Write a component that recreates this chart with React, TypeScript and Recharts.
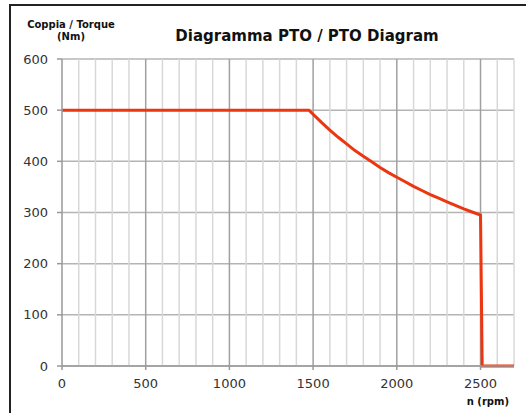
import { CartesianGrid, Line, LineChart, ReferenceLine, XAxis, YAxis } from 'recharts';

const rpm = [0, 1475, 1550, 1600, 1650, 1700, 1750, 1800, 1850, 1900, 1950, 2000, 2050, 2100, 2150, 2200, 2250, 2300, 2350, 2400, 2450, 2500, 2510, 2700];
const torque = [500, 500, 476, 461, 447, 434, 421, 410, 399, 388, 378, 369, 360, 351, 343, 335, 328, 321, 314, 307, 301, 295, 0, 0];

const xTicks = [0, 500, 1000, 1500, 2000, 2500];
const yTicks = [0, 100, 200, 300, 400, 500, 600];
const minorRpm = [100, 200, 300, 400, 600, 700, 800, 900, 1100, 1200, 1300, 1400, 1600, 1700, 1800, 1900, 2100, 2200, 2300, 2400, 2600, 2700];
const majorRpm = [500, 1000, 1500, 2000, 2500];

const data = rpm.map((n, i) => ({ n, torque: torque[i] }));

const font = '"DejaVu Sans", sans-serif';

export default function App() {
  return (
    <div style={{ position: 'fixed', left: 0, top: 0, width: 526, height: 413, overflow: 'hidden', background: '#fff', fontFamily: font }}>
      {/* outer frame: only its top and left edges fall inside the picture */}
      <div style={{ position: 'absolute', left: 9, top: 4, width: 517, height: 2, background: '#222' }} />
      <div style={{ position: 'absolute', left: 9, top: 4, width: 2, height: 409, background: '#222' }} />
      <div style={{ position: 'absolute', left: 20, top: 19, width: 102, textAlign: 'center', fontSize: 10, fontWeight: 'bold', lineHeight: '12px', color: '#111' }}>
        Coppia / Torque
        <br />
        (Nm)
      </div>
      <div style={{ position: 'absolute', left: 150, top: 27, width: 314, textAlign: 'center', fontSize: 15, fontWeight: 'bold', color: '#111' }}>
        Diagramma PTO / PTO Diagram
      </div>
      <div style={{ position: 'absolute', left: 440, top: 396, width: 69, textAlign: 'right', fontSize: 10, fontWeight: 'bold', lineHeight: '12px', color: '#111' }}>
        n (rpm)
      </div>
      <div style={{ position: 'absolute', left: 0, top: 0 }}>
        <LineChart width={526} height={413} data={data} margin={{ top: 59, right: 12, bottom: 17, left: 10 }}>
          <CartesianGrid vertical={false} stroke="#b4b4b4" strokeWidth={1.5} />
          {minorRpm.map((v) => (
            <ReferenceLine key={v} x={v} stroke="#d8d8d8" strokeWidth={1.5} />
          ))}
          {majorRpm.map((v) => (
            <ReferenceLine key={v} x={v} stroke="#a0a0a0" strokeWidth={1.5} />
          ))}
          <XAxis
            dataKey="n"
            type="number"
            domain={[0, 2700]}
            ticks={xTicks}
            height={30}
            tickSize={4}
            tickMargin={9}
            stroke="#999"
            strokeWidth={1.5}
            tick={{ fill: '#333', fontSize: 13, fontFamily: font }}
          />
          <YAxis
            type="number"
            domain={[0, 600]}
            ticks={yTicks}
            width={52}
            tickSize={5}
            tickMargin={9}
            stroke="#999"
            strokeWidth={1.5}
            tick={{ fill: '#333', fontSize: 13, fontFamily: font }}
          />
          <Line dataKey="torque" type="linear" stroke="#ec3610" strokeWidth={3} dot={false} isAnimationActive={false} />
        </LineChart>
      </div>
    </div>
  );
}
